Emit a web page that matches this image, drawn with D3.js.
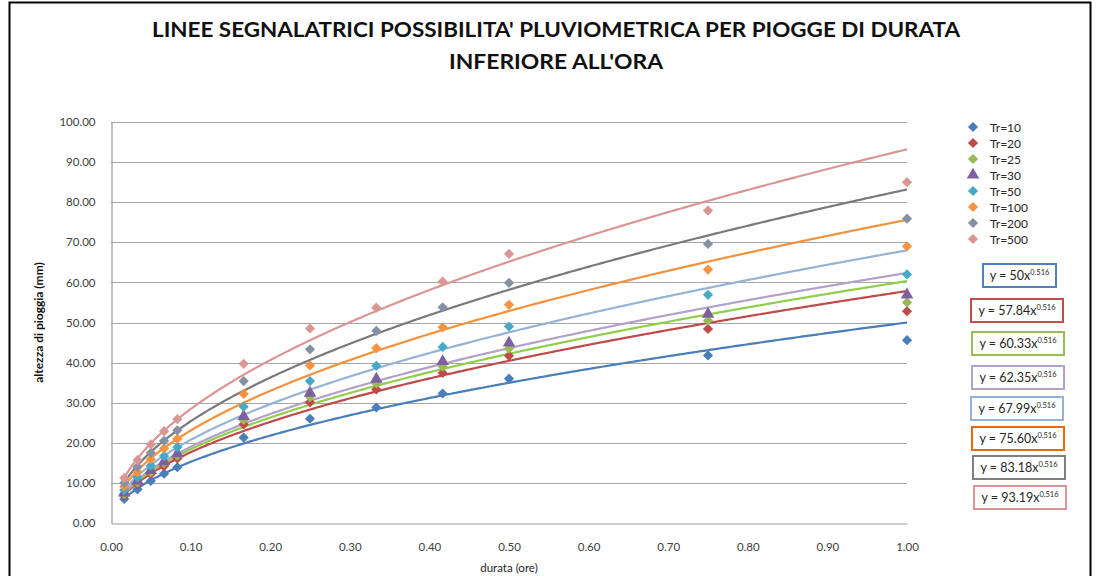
<!DOCTYPE html>
<html>
<head>
<meta charset="utf-8">
<script src="https://cdn.jsdelivr.net/npm/d3@7"></script>
<style>
  html, body { margin: 0; padding: 0; background: #fff; }
  svg { display: block; font-family: Lato, "Liberation Sans", sans-serif; }
</style>
</head>
<body>
<svg id="chart" width="1097" height="576"></svg>
<script>
// Durations in hours (1, 2, 3, 4, 5, 10, 15, 20, 25, 30, 45, 60 minutes)
const durations = [1/60, 2/60, 3/60, 4/60, 5/60, 10/60, 15/60, 20/60, 25/60, 30/60, 45/60, 1];

// Return periods and the rainfall depths (mm) observed for each
const seriesNames = ["Tr=10", "Tr=20", "Tr=25", "Tr=30", "Tr=50", "Tr=100", "Tr=200", "Tr=500"];
const tr10  = [6.0, 8.4, 10.5, 12.3, 13.9, 21.3, 26.0, 28.8, 32.3, 36.0, 41.8, 45.6];
const tr20  = [6.9, 9.7, 12.2, 14.2, 16.1, 24.6, 30.1, 33.3, 37.4, 41.7, 48.4, 52.8];
const tr25  = [7.2, 10.1, 12.7, 14.9, 16.8, 25.7, 31.4, 34.8, 39.0, 43.5, 50.5, 55.0];
const tr30  = [7.5, 10.5, 13.1, 15.3, 17.3, 26.6, 32.4, 35.9, 40.3, 44.9, 52.1, 56.9];
const tr50  = [8.2, 11.4, 14.3, 16.7, 18.9, 29.0, 35.4, 39.2, 43.9, 49.0, 56.9, 62.0];
const tr100 = [9.1, 12.7, 15.9, 18.6, 21.0, 32.2, 39.3, 43.6, 48.8, 54.4, 63.2, 69.0];
const tr200 = [10.0, 14.0, 17.5, 20.5, 23.1, 35.4, 43.3, 47.9, 53.8, 59.9, 69.6, 75.9];
const tr500 = [11.2, 15.7, 19.6, 22.9, 25.9, 39.7, 48.5, 53.7, 60.2, 67.1, 77.9, 85.0];
const seriesValues = [tr10, tr20, tr25, tr30, tr50, tr100, tr200, tr500];

// Power-law trendlines y = a * x^b
const trendCoef = [50, 57.84, 60.33, 62.35, 67.99, 75.60, 83.18, 93.19];
const trendCoefLabels = ["50", "57.84", "60.33", "62.35", "67.99", "75.60", "83.18", "93.19"];
const trendExp = 0.516;
const trendExpLabel = "0.516";

// Axis ticks
const xTicks = [0, 0.1, 0.2, 0.3, 0.4, 0.5, 0.6, 0.7, 0.8, 0.9, 1.0];
const yTicks = [0, 10, 20, 30, 40, 50, 60, 70, 80, 90, 100];

// Styling
const markerColors = ["#4a7ebb", "#be4b48", "#98b954", "#7d60a0", "#46aac5", "#f69240", "#8591a3", "#da9694"];
const lineColors   = ["#4a7ebb", "#be4b48", "#8fcf4a", "#b3a2c7", "#95b3d7", "#f7903a", "#7a7a7a", "#da9694"];
const boxColors    = ["#4f81bd", "#c0504d", "#9bbb59", "#b3a2c7", "#95b3d7", "#e46c0a", "#7f7f7f", "#d99694"];
const markerShapes = ["diamond", "diamond", "diamond", "triangle", "diamond", "diamond", "diamond", "diamond"];

const svg = d3.select("#chart");

// outer chart frame
svg.append("rect")
  .attr("x", 9.5).attr("y", 2.5)
  .attr("width", 1081).attr("height", 620)
  .attr("fill", "none").attr("stroke", "#000").attr("stroke-width", 2);

// title
const title = svg.append("g")
  .attr("font-weight", "bold").attr("fill", "#111").attr("font-size", 21)
  .attr("text-anchor", "middle");
title.append("text").attr("x", 556).attr("y", 37)
  .attr("textLength", 808).attr("lengthAdjust", "spacingAndGlyphs")
  .text("LINEE SEGNALATRICI POSSIBILITA' PLUVIOMETRICA PER PIOGGE DI DURATA");
title.append("text").attr("x", 556).attr("y", 69)
  .attr("textLength", 214).attr("lengthAdjust", "spacingAndGlyphs")
  .text("INFERIORE ALL'ORA");

const x = d3.scaleLinear().domain([0, 1]).range([111, 907]);
const y = d3.scaleLinear().domain([0, 100]).range([523, 122]);

// horizontal gridlines
svg.append("g")
  .selectAll("line")
  .data(yTicks.filter(d => d > 0))
  .join("line")
  .attr("x1", x(0)).attr("x2", x(1))
  .attr("y1", d => Math.round(y(d)) + 0.5).attr("y2", d => Math.round(y(d)) + 0.5)
  .attr("stroke", "#a6a6a6").attr("stroke-width", 1.2);

// axes
const fmt = d3.format(".2f");
const xAxis = svg.append("g")
  .attr("transform", `translate(0,${Math.round(y(0)) + 0.5})`)
  .call(d3.axisBottom(x).tickValues(xTicks).tickFormat(fmt).tickSize(0).tickPadding(19));
const yAxis = svg.append("g")
  .attr("transform", `translate(${Math.round(x(0)) + 0.5},0)`)
  .call(d3.axisLeft(y).tickValues(yTicks).tickFormat(fmt).tickSize(0).tickPadding(16));
[xAxis, yAxis].forEach(a => {
  a.select(".domain").attr("stroke", "#9a9a9a").attr("stroke-width", 1.2);
  a.selectAll("text").attr("font-family", "Lato, sans-serif").attr("font-size", 11.5).attr("fill", "#404040");
});

// axis titles
svg.append("text")
  .attr("x", 509).attr("y", 572)
  .attr("text-anchor", "middle").attr("font-size", 11.5).attr("fill", "#262626")
  .text("durata (ore)");
svg.append("text")
  .attr("transform", `translate(43,${(y(0) + y(100)) / 2}) rotate(-90)`)
  .attr("text-anchor", "middle").attr("font-size", 12).attr("font-weight", "bold").attr("fill", "#111")
  .text("altezza di pioggia (mm)");

// trendlines
const xs = d3.range(0, 401).map(i => durations[0] + (1 - durations[0]) * i / 400);
const line = d3.line().x(d => x(d[0])).y(d => y(d[1])).curve(d3.curveLinear);
svg.append("g")
  .selectAll("path")
  .data(trendCoef)
  .join("path")
  .attr("d", a => line(xs.map(v => [v, a * Math.pow(v, trendExp)])))
  .attr("fill", "none")
  .attr("stroke", (a, i) => lineColors[i])
  .attr("stroke-width", 2.2);

// markers
const diamond = d3.symbol().type(d3.symbolSquare).size(52)();
const triangle = d3.symbol().type(d3.symbolTriangle).size(68)();
seriesValues.forEach((vals, i) => {
  svg.append("g")
    .selectAll("path")
    .data(vals)
    .join("path")
    .attr("d", markerShapes[i] === "triangle" ? triangle : diamond)
    .attr("transform", (v, j) => `translate(${x(durations[j])},${y(v)})` + (markerShapes[i] === "triangle" ? "" : " rotate(45)"))
    .attr("fill", markerColors[i]);
});

// legend
const legend = svg.append("g").attr("font-size", 12).attr("fill", "#262626");
seriesNames.forEach((name, i) => {
  const ly = 127 + i * 16;
  legend.append("path")
    .attr("d", markerShapes[i] === "triangle" ? triangle : diamond)
    .attr("transform", `translate(973,${ly})` + (markerShapes[i] === "triangle" ? "" : " rotate(45)"))
    .attr("fill", markerColors[i]);
  legend.append("text").attr("x", 990).attr("y", ly + 4.5).text(name);
});

// trendline equation labels
const boxes = [
  [983, 264, 73], [971, 299, 92], [972, 332, 92], [972, 366, 92],
  [971, 397, 92], [972, 427, 92], [973, 456, 92], [974, 486, 92]
];
const eq = svg.append("g");
trendCoefLabels.forEach((c, i) => {
  const [bx, by, bw] = boxes[i];
  eq.append("rect")
    .attr("x", bx).attr("y", by).attr("width", bw).attr("height", 23)
    .attr("fill", "#fff").attr("stroke", boxColors[i]).attr("stroke-width", 2);
  const t = eq.append("text")
    .attr("x", bx + bw / 2).attr("y", by + 16)
    .attr("text-anchor", "middle").attr("font-size", 12.5).attr("fill", "#262626");
  t.append("tspan").text(`y = ${c}x`);
  t.append("tspan").attr("font-size", 7.5).attr("dy", -5).text(trendExpLabel);
});
</script>
</body>
</html>
